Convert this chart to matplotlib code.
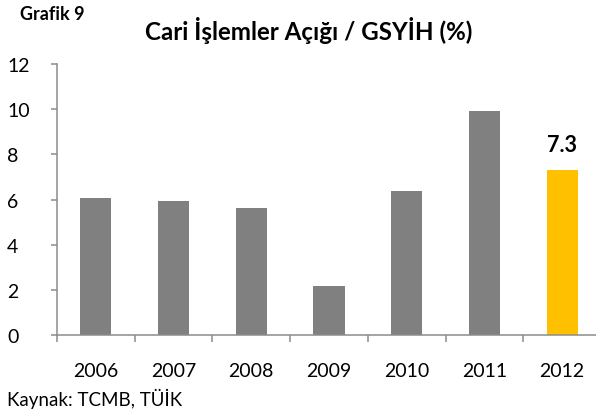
import matplotlib
matplotlib.use("Agg")
import matplotlib.pyplot as plt
from matplotlib.ticker import FixedLocator

years = ["2006", "2007", "2008", "2009", "2010", "2011", "2012"]
values = [6.08, 5.92, 5.62, 2.16, 6.36, 9.93, 7.31]
bar_colors = ["#808080"] * 6 + ["#FFC000"]
highlight_label = "7.3"
yticks = [0, 2, 4, 6, 8, 10, 12]

plt.rcParams['font.family'] = ['Lato', 'DejaVu Sans']

W, H = 596, 414
fig = plt.figure(figsize=(W / 100, H / 100), dpi=100)
ax = fig.add_axes([57 / W, (H - 335.7) / H, (601 - 57) / W, (335.7 - 65.3) / H])

x = list(range(len(years)))
ax.bar(x, values, width=0.4, color=bar_colors, zorder=2)

ax.set_xlim(-0.5, len(years) - 0.5)
ax.set_ylim(0, 12)

axis_color = "#8C8C8C"
for s in ["top", "right"]:
    ax.spines[s].set_visible(False)
for s in ["left", "bottom"]:
    ax.spines[s].set_color(axis_color)
    ax.spines[s].set_linewidth(1.1)

ax.set_yticks(yticks)
ax.set_yticklabels([str(t) for t in yticks], ha='left')
ax.tick_params(axis='y', length=4.5, width=1.1, color=axis_color, pad=31.5,
               labelsize=14, labelcolor='black')

ax.set_xticks(x)
ax.set_xticklabels(years)
ax.xaxis.set_minor_locator(FixedLocator([i - 0.5 for i in range(len(years) + 1)]))
ax.tick_params(axis='x', which='major', length=0, pad=19.5, labelsize=14)
ax.tick_params(axis='x', which='minor', length=5, width=1.1, color=axis_color)

ax.annotate(highlight_label, xy=(x[-1], values[-1]), xytext=(0, 18.4),
            textcoords='offset points', ha='center', va='center',
            fontsize=15.5, fontweight='bold')

fig.text(20 / W, 1 - 15 / H, "Grafik 9", fontsize=13, fontweight='bold',
         ha='left', va='center')
fig.text(308.5 / W, 1 - 31 / H, "Cari İşlemler Açığı / GSYİH (%)", fontsize=17.4,
         fontweight='bold', ha='center', va='center')
fig.text(7.5 / W, 1 - 399 / H, "Kaynak: TCMB, TÜİK", fontsize=13.5,
         ha='left', va='center')

fig.savefig("out.png", dpi=100)
